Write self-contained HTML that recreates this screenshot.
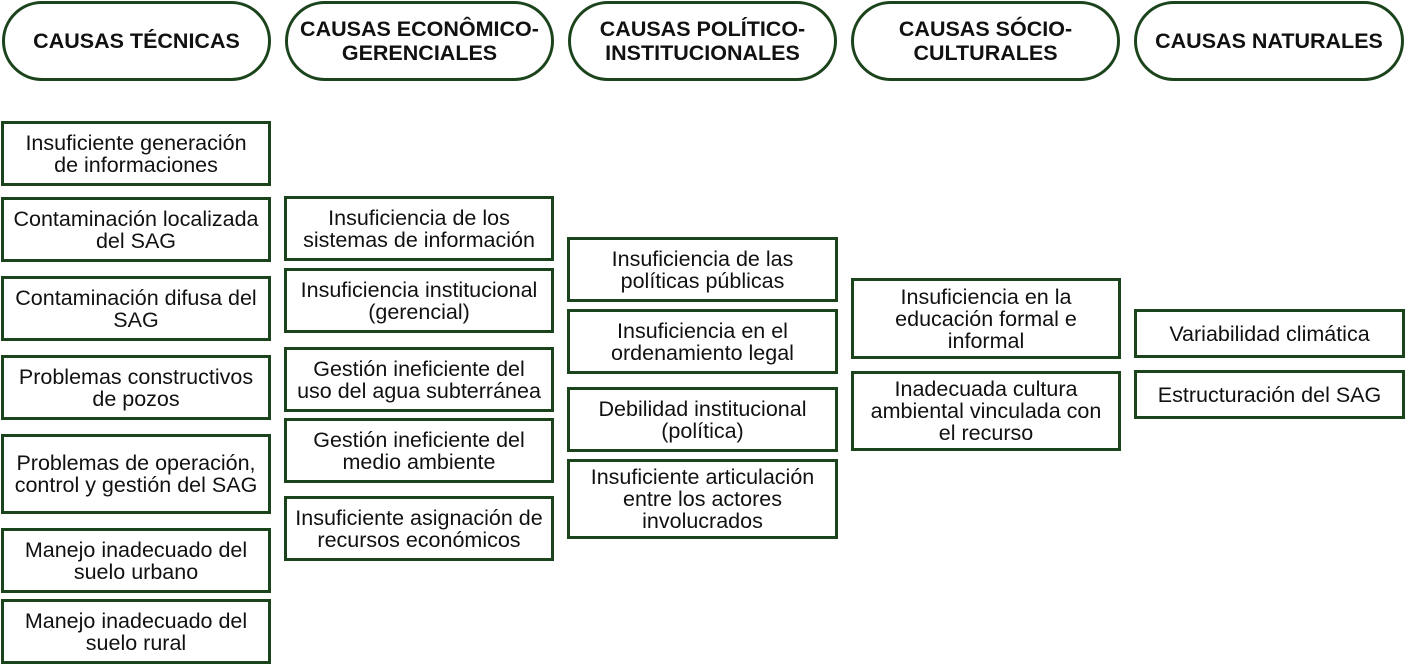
<!DOCTYPE html>
<html><head><meta charset="utf-8"><style>
body{margin:0;width:1405px;height:665px;background:#fff;position:relative;overflow:hidden;font-family:"Liberation Sans",Arial,sans-serif;}
.b{position:absolute;box-sizing:border-box;border:3px solid #1c441c;display:flex;align-items:center;justify-content:center;text-align:center;color:#111;font-size:21.5px;line-height:22px;background:#fff;white-space:nowrap;}
.h{border-radius:40px;font-weight:bold;font-size:21.5px;line-height:24px;}
</style></head><body>
<div class="b h" style="left:2px;top:1px;width:269px;height:80px">CAUSAS TÉCNICAS</div>
<div class="b h" style="left:285px;top:1px;width:269px;height:80px">CAUSAS ECONÔMICO-<br>GERENCIALES</div>
<div class="b h" style="left:568px;top:1px;width:269px;height:80px">CAUSAS POLÍTICO-<br>INSTITUCIONALES</div>
<div class="b h" style="left:851px;top:1px;width:269px;height:80px">CAUSAS SÓCIO-<br>CULTURALES</div>
<div class="b h" style="left:1134px;top:1px;width:270px;height:80px">CAUSAS NATURALES</div>

<div class="b" style="left:1px;top:121px;width:270px;height:65px">Insuficiente generación<br>de informaciones</div>
<div class="b" style="left:1px;top:197px;width:270px;height:65px">Contaminación localizada<br>del SAG</div>
<div class="b" style="left:1px;top:276px;width:270px;height:65px">Contaminación difusa del<br>SAG</div>
<div class="b" style="left:1px;top:355px;width:270px;height:65px">Problemas constructivos<br>de pozos</div>
<div class="b" style="left:1px;top:434px;width:270px;height:80px">Problemas de operación,<br>control y gestión del SAG</div>
<div class="b" style="left:1px;top:528px;width:270px;height:65px">Manejo inadecuado del<br>suelo urbano</div>
<div class="b" style="left:1px;top:599px;width:270px;height:65px">Manejo inadecuado del<br>suelo rural</div>

<div class="b" style="left:284px;top:196px;width:270px;height:65px">Insuficiencia de los<br>sistemas de información</div>
<div class="b" style="left:284px;top:268px;width:270px;height:65px">Insuficiencia institucional<br>(gerencial)</div>
<div class="b" style="left:284px;top:347px;width:270px;height:65px">Gestión ineficiente del<br>uso del agua subterránea</div>
<div class="b" style="left:284px;top:418px;width:270px;height:65px">Gestión ineficiente del<br>medio ambiente</div>
<div class="b" style="left:284px;top:496px;width:270px;height:65px">Insuficiente asignación de<br>recursos económicos</div>

<div class="b" style="left:567px;top:237px;width:271px;height:65px">Insuficiencia de las<br>políticas públicas</div>
<div class="b" style="left:567px;top:309px;width:271px;height:65px">Insuficiencia en el<br>ordenamiento legal</div>
<div class="b" style="left:567px;top:387px;width:271px;height:65px">Debilidad institucional<br>(política)</div>
<div class="b" style="left:567px;top:459px;width:271px;height:80px">Insuficiente articulación<br>entre los actores<br>involucrados</div>

<div class="b" style="left:851px;top:278px;width:270px;height:81px">Insuficiencia en la<br>educación formal e<br>informal</div>
<div class="b" style="left:851px;top:371px;width:270px;height:80px">Inadecuada cultura<br>ambiental vinculada con<br>el recurso</div>

<div class="b" style="left:1134px;top:309px;width:271px;height:49px">Variabilidad climática</div>
<div class="b" style="left:1134px;top:370px;width:271px;height:49px">Estructuración del SAG</div>
</body></html>
